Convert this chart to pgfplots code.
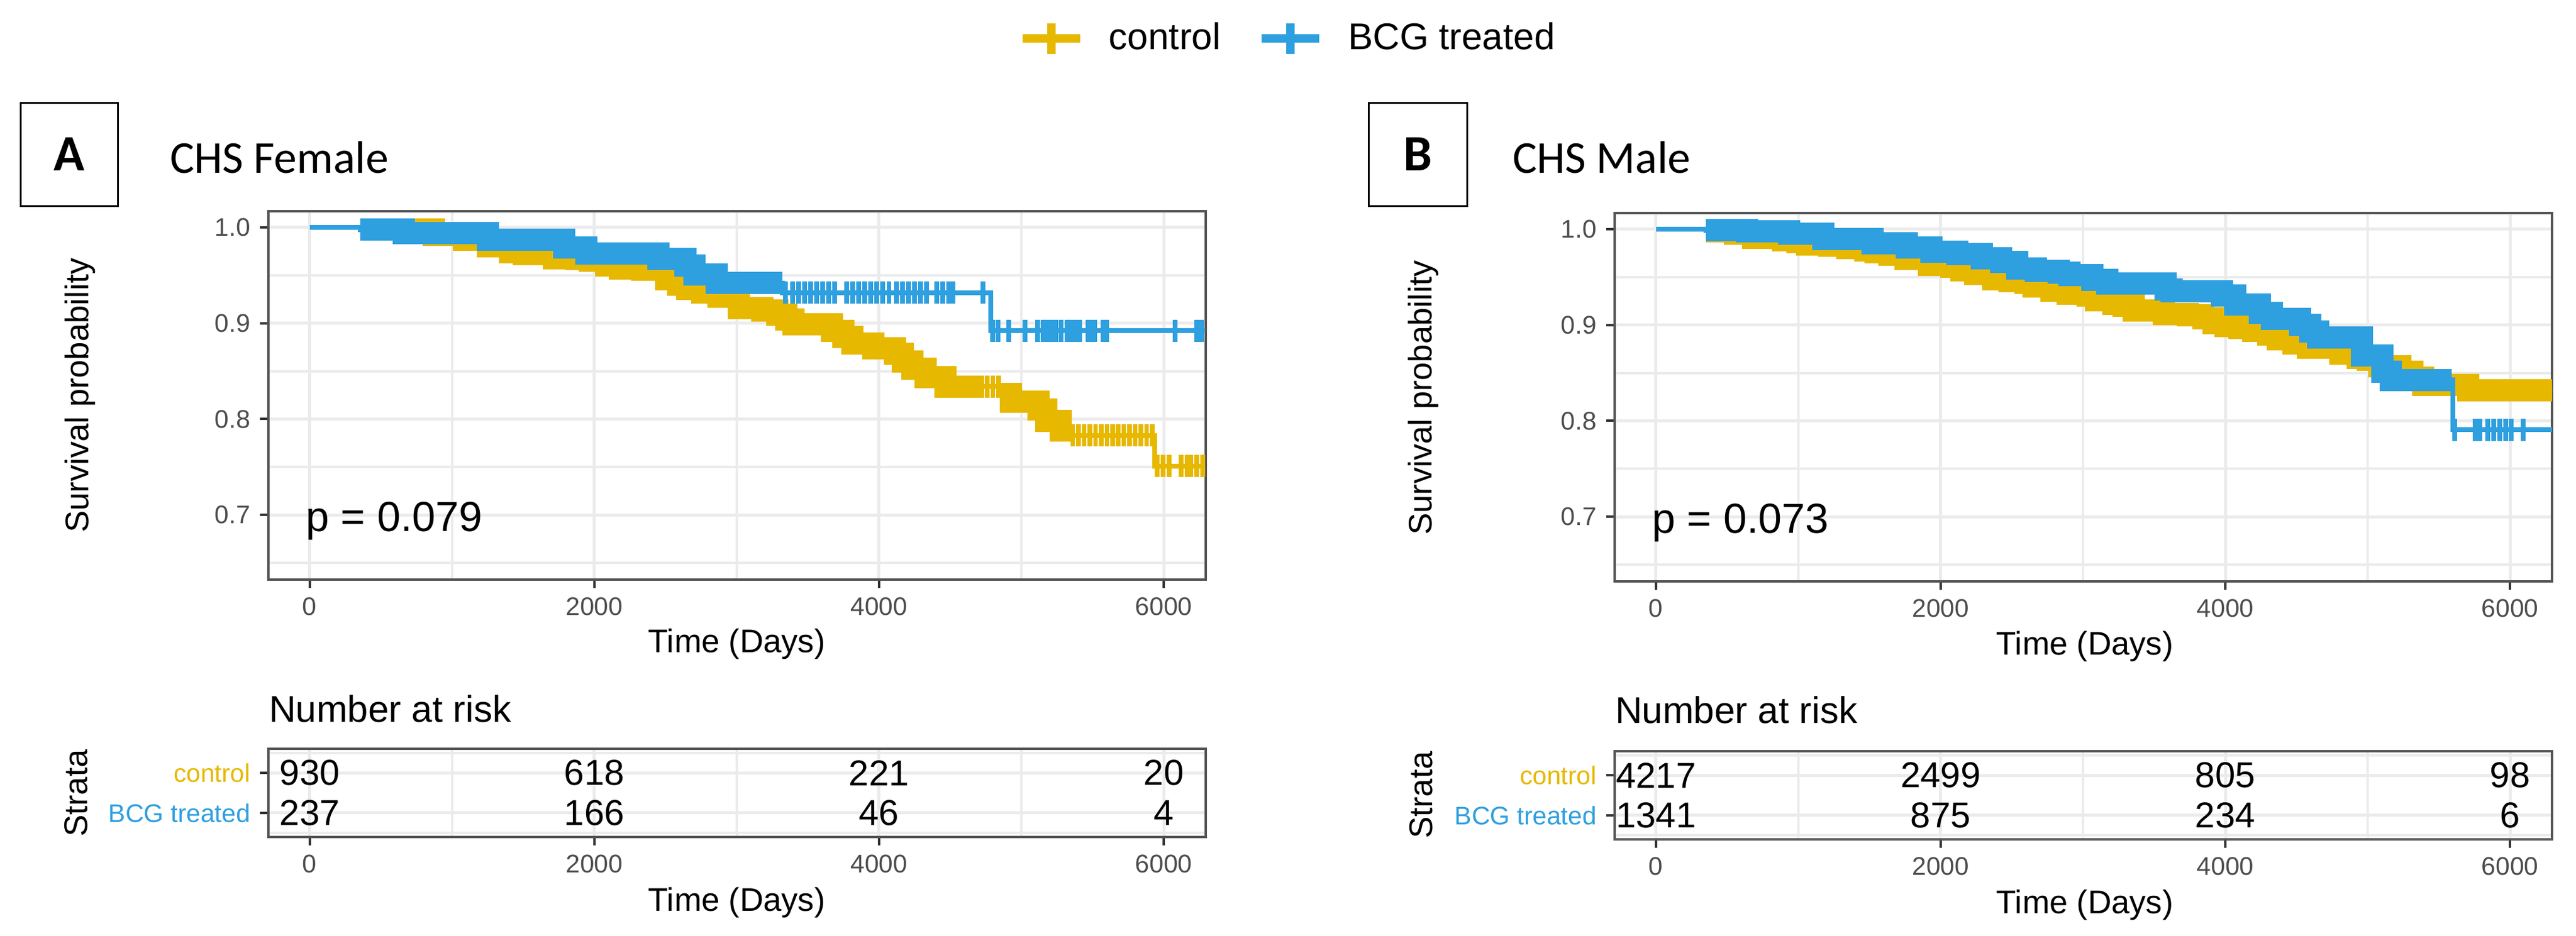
\documentclass[border=0pt]{standalone}
\usepackage{fontspec}
\setmainfont{Liberation Sans}
\newfontfamily\calibri{Carlito}
\usepackage{pgfplots}
\pgfplotsset{compat=1.18}
\usepackage{pgfplotstable}
\definecolor{ctrlgold}{HTML}{E7B800}
\definecolor{bcgblue}{HTML}{2E9FDF}
\definecolor{gridc}{HTML}{EBEBEB}
\definecolor{tickc}{HTML}{4D4D4D}
\definecolor{framec}{HTML}{555555}
\newcommand\tickfont{\fontsize{8.5pt}{10pt}\selectfont}
\newcommand\labfont{\fontsize{10.9pt}{13pt}\selectfont}
\newcommand\nfont{\fontsize{12pt}{14pt}\selectfont}
\newcommand\nrfont{\fontsize{12.4pt}{15pt}\selectfont}
\newcommand\pfont{\fontsize{14pt}{16pt}\selectfont}
\newcommand\legfont{\fontsize{12.4pt}{15pt}\selectfont}
\newcommand\titfont{\calibri\fontsize{15.2pt}{18pt}\selectfont}
\newcommand\boxfont{\calibri\bfseries\fontsize{17pt}{20pt}\selectfont}

% ---------------- Panel A data ----------------
\pgfplotstableread{
t S
0 1.0
354 0.9975
873 0.992
1084 0.987
1253 0.980
1409 0.974
1506 0.972
1717 0.968
1873 0.967
1970 0.965
2084 0.960
2181 0.957
2338 0.956
2506 0.946
2591 0.940
2654 0.936
2759 0.932
2873 0.9275
3013 0.916
3181 0.913
3287 0.909
3350 0.904
3401 0.899
3667 0.892
3751 0.886
3814 0.879
3962 0.874
4110 0.868
4165 0.860
4236 0.8525
4329 0.844
4468 0.834
4848 0.826
4924 0.818
5122 0.810
5177 0.798
5278 0.788
5346 0.783
5937 0.751
6290 0.751
}\ctrlAline
\pgfplotstableread{
t S
354 0.9975
873 0.992
1084 0.987
1253 0.980
1409 0.974
1506 0.972
1717 0.968
1873 0.967
1970 0.965
2084 0.960
2181 0.957
2338 0.956
2506 0.946
2591 0.940
2654 0.936
2759 0.932
2873 0.9275
3013 0.916
3181 0.913
3287 0.909
3350 0.904
3401 0.899
3667 0.892
3751 0.886
3814 0.879
3962 0.874
4110 0.868
4165 0.860
4236 0.8525
4329 0.844
4468 0.834
4740 0.834
}\ctrlAbandA
\pgfplotstableread{
t S
4848 0.826
4924 0.818
5122 0.810
5177 0.798
5278 0.788
5346 0.788
}\ctrlAbandB
\pgfplotstableread{
t S
4760 0.834
4800 0.834
4840 0.834
5360 0.783
5400 0.783
5440 0.783
5480 0.783
5520 0.783
5560 0.783
5600 0.783
5640 0.783
5680 0.783
5720 0.783
5760 0.783
5800 0.783
5840 0.783
5880 0.783
5920 0.783
5954 0.751
5996 0.751
6038 0.751
6122 0.751
6165 0.751
6190 0.751
6232 0.751
6274 0.751
}\ctrlAcens
\pgfplotstableread{
t S
0 1.0
354 0.9975
662 0.994
1253 0.987
1789 0.979
1945 0.973
2451 0.967
2641 0.960
2705 0.951
2857 0.942
3321 0.932
4785 0.892
6290 0.892
}\bcgAline
\pgfplotstableread{
t S
354 0.9975
662 0.994
1253 0.987
1789 0.979
1945 0.973
2451 0.967
2641 0.960
2705 0.951
2857 0.942
3321 0.942
}\bcgAband
\pgfplotstableread{
t S
3342 0.932
3392 0.932
3435 0.932
3477 0.932
3519 0.932
3561 0.932
3603 0.932
3646 0.932
3688 0.932
3772 0.932
3814 0.932
3857 0.932
3899 0.932
3941 0.932
3983 0.932
4025 0.932
4070 0.932
4122 0.932
4165 0.932
4207 0.932
4249 0.932
4291 0.932
4333 0.932
4405 0.932
4447 0.932
4489 0.932
4519 0.932
4730 0.932
4797 0.892
4835 0.892
4911 0.892
5025 0.892
5114 0.892
5152 0.892
5177 0.892
5207 0.892
5241 0.892
5278 0.892
5321 0.892
5354 0.892
5384 0.892
5409 0.892
5468 0.892
5502 0.892
5515 0.892
5574 0.892
5599 0.892
6080 0.892
6232 0.892
6265 0.892
}\bcgAcens
% ---------------- Panel B data ----------------
\pgfplotstableread{
t S
0 1.0
353 0.999
430 0.9977
557 0.995
683 0.991
894 0.9887
993 0.9864
1063 0.984
1218 0.9825
1345 0.980
1471 0.9775
1541 0.9756
1640 0.9733
1752 0.969
1920 0.9629
2075 0.9608
2147 0.957
2245 0.9535
2370 0.948
2484 0.946
2596 0.944
2653 0.940
2780 0.936
2892 0.9326
3032 0.9305
3089 0.926
3215 0.922
3285 0.920
3355 0.915
3566 0.9117
3735 0.910
3848 0.9067
3918 0.9023
4004 0.899
4101 0.897
4198 0.894
4300 0.890
4370 0.8853
4480 0.8804
4578 0.8762
4806 0.870
4932 0.8658
5000 0.8637
5084 0.857
5228 0.851
5312 0.845
5388 0.8372
5705 0.8319
6330 0.8319
}\ctrlBline
\pgfplotstableread{
t S
0 1.0
353 0.999
641 0.998
937 0.995
1176 0.9894
1520 0.985
1760 0.9806
1935 0.9764
2118 0.974
2290 0.9695
2426 0.9656
2540 0.9587
2667 0.9567
2830 0.9545
2906 0.9524
3066 0.947
3171 0.9436
3580 0.9368
3624 0.935
3975 0.9305
4070 0.9217
4241 0.9128
4325 0.9065
4523 0.9002
4595 0.893
4650 0.8867
4960 0.868
5101 0.851
5160 0.8428
5600 0.7907
6330 0.7907
}\bcgBline
\pgfplotstableread{
t S
353 0.999
641 0.998
937 0.995
1176 0.9894
1520 0.985
1760 0.9806
1935 0.9764
2118 0.974
2290 0.9695
2426 0.9656
2540 0.9587
2667 0.9567
2830 0.9545
2906 0.9524
3066 0.947
3171 0.9436
3580 0.9368
3624 0.935
3975 0.9305
4070 0.9217
4241 0.9128
4325 0.9065
4523 0.9002
4595 0.893
4650 0.8867
4960 0.868
5101 0.851
5160 0.8428
5590 0.8428
}\bcgBband
\pgfplotstableread{
t S
5612 0.7907
5755 0.7907
5789 0.7907
5844 0.7907
5886 0.7907
5928 0.7907
5970 0.7907
6008 0.7907
6093 0.7907
}\bcgBcens
% ---------------- risk tables ----------------
\pgfplotstableread{
t y n
0 2 930
2000 2 618
4000 2 221
6000 2 20
0 1 237
2000 1 166
4000 1 46
6000 1 4
}\riskA
\pgfplotstableread{
t y n
0 2 4217
2000 2 2499
4000 2 805
6000 2 98
0 1 1341
2000 1 875
4000 1 234
6000 1 6
}\riskB

\pgfplotsset{
  base/.style={
    scale only axis, width=312.2pt,
    xmin=-290, xmax=6295,
    scaled x ticks=false,
    axis line style={draw=framec, line width=0.7pt},
    xtick={0,2000,4000,6000},
    minor xtick={1000,3000,5000},
    grid=both,
    major grid style={draw=gridc, line width=1pt},
    minor grid style={draw=gridc, line width=0.8pt},
    tick align=outside, tick pos=left,
    major tick length=2.8pt, minor tick length=0pt,
    tick style={draw=black!80, line width=0.8pt},
    /pgf/number format/assume math mode=true,
    xticklabel style={font=\tickfont, text=tickc, anchor=north, inner sep=0pt, yshift=-3pt,
      /pgf/number format/1000 sep={}},
    yticklabel style={font=\tickfont, text=tickc, anchor=east, inner sep=0pt, xshift=-3pt},
  },
  km/.style={base, height=122.8pt, ymin=0.6324, ymax=1.0169,
    ytick={0.7,0.8,0.9,1.0}, minor ytick={0.65,0.75,0.85,0.95},
    yticklabel style={/pgf/number format/.cd, fixed, fixed zerofill, precision=1}},
  risk/.style={base, height=29.4pt, ymin=0.4, ymax=2.6,
    ytick={1,2}, minor ytick={0.5,2.5},
    yticklabels={\textcolor{bcgblue}{BCG treated},\textcolor{ctrlgold}{control}}},
  kmline/.style={const plot, line width=1.6pt, forget plot},
  kmband/.style={const plot, line width=7.4pt, line join=miter, line cap=butt, forget plot},
  kmcens/.style={only marks, mark=|, mark size=3.7pt, mark options={line width=1.5pt}, forget plot},
  risknum/.style={draw=none, mark=none, forget plot, nodes near coords, point meta=explicit symbolic,
    nodes near coords align={center},
    every node near coord/.append style={font=\nfont, text=black, anchor=center, inner sep=0pt}},
}

\begin{document}
\begin{tikzpicture}
\useasboundingbox (0,0) rectangle (858pt,311.8pt);

% ---------- Panel A main ----------
\begin{axis}[km, at={(89.4pt,118.6pt)}, anchor=south west,
  legend style={at={(0.8001,1.469)}, anchor=west, draw=none, fill=none, font=\legfont,
    inner sep=0pt, outer sep=0pt,
    nodes={inner sep=0pt},
    /tikz/every odd column/.append style={column sep=0pt},
    /tikz/every even column/.append style={column sep=12.2pt}},
  legend columns=2, legend cell align=left,
  legend image code/.code={
    \draw[line width=2.8pt] (0pt,0pt) -- (19.2pt,0pt);
    \draw[line width=2.8pt] (9.6pt,-5.1pt) -- (9.6pt,5.1pt);
    \path[draw=none, fill=none] (0pt,0pt) -- (28.8pt,0pt);}]
\addplot[kmline, ctrlgold] table {\ctrlAline};
\addplot[kmband, ctrlgold] table {\ctrlAbandA};
\addplot[kmband, ctrlgold] table {\ctrlAbandB};
\addplot[kmcens, ctrlgold] table {\ctrlAcens};
\addplot[kmline, bcgblue] table {\bcgAline};
\addplot[kmband, bcgblue] table {\bcgAband};
\addplot[kmcens, bcgblue] table {\bcgAcens};
\node[font=\pfont, anchor=base west, inner sep=0pt] at (axis cs:-30,0.683) {p = 0.079};
\addlegendimage{ctrlgold}
\addlegendentry{control}
\addlegendimage{bcgblue}
\addlegendentry{BCG treated}
\end{axis}

% ---------- Panel B main ----------
\begin{axis}[km, at={(537.8pt,118.0pt)}, anchor=south west]
\addplot[kmline, ctrlgold] table {\ctrlBline};
\addplot[kmband, ctrlgold, restrict x to domain=350:7000] table {\ctrlBline};
\addplot[kmline, bcgblue] table {\bcgBline};
\addplot[kmband, bcgblue] table {\bcgBband};
\addplot[kmcens, bcgblue] table {\bcgBcens};
\node[font=\pfont, anchor=base west, inner sep=0pt] at (axis cs:-30,0.683) {p = 0.073};
\end{axis}

% ---------- Risk tables ----------
\begin{axis}[risk, at={(89.4pt,32.8pt)}, anchor=south west]
\addplot[risknum] table[x=t, y=y, meta=n] {\riskA};
\end{axis}
\begin{axis}[risk, at={(537.8pt,32.0pt)}, anchor=south west]
\addplot[risknum] table[x=t, y=y, meta=n] {\riskB};
\end{axis}

% ---------- texts ----------
\draw[line width=0.6pt] (6.8pt,277.6pt) rectangle (39.2pt,243.2pt);
\node[font=\boxfont, inner sep=0pt] at (23pt,260.4pt) {A};
\node[font=\titfont, anchor=base west, inner sep=0pt] at (56.4pt,254.2pt) {CHS Female};
\node[font=\labfont, rotate=90, inner sep=0pt] at (26.6pt,180pt) {Survival probability};
\node[font=\labfont, inner sep=0pt] at (245.4pt,97.2pt) {Time (Days)};
\node[font=\nrfont, anchor=base west, inner sep=0pt] at (89.4pt,71.2pt) {Number at risk};
\node[font=\labfont, rotate=90, inner sep=0pt] at (25.4pt,47.4pt) {Strata};
\node[font=\labfont, inner sep=0pt] at (245.4pt,11pt) {Time (Days)};

\draw[line width=0.6pt] (455.8pt,277.6pt) rectangle (488.6pt,243.2pt);
\node[font=\boxfont, inner sep=0pt] at (472.2pt,260.4pt) {B};
\node[font=\titfont, anchor=base west, inner sep=0pt] at (503.6pt,254.2pt) {CHS Male};
\node[font=\labfont, rotate=90, inner sep=0pt] at (474pt,179.2pt) {Survival probability};
\node[font=\labfont, inner sep=0pt] at (694.4pt,96.4pt) {Time (Days)};
\node[font=\nrfont, anchor=base west, inner sep=0pt] at (537.8pt,70.8pt) {Number at risk};
\node[font=\labfont, rotate=90, inner sep=0pt] at (473.4pt,46.8pt) {Strata};
\node[font=\labfont, inner sep=0pt] at (694.4pt,10.2pt) {Time (Days)};
\end{tikzpicture}
\end{document}
